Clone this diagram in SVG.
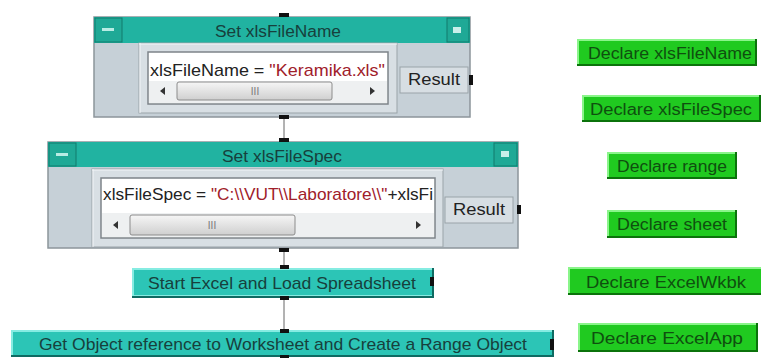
<svg xmlns="http://www.w3.org/2000/svg" width="761" height="358" viewBox="0 0 761 358">
<defs>
<linearGradient id="thumb" x1="0" y1="0" x2="0" y2="1">
<stop offset="0" stop-color="#f6f6f6"/><stop offset="1" stop-color="#cfcfcf"/>
</linearGradient>
<style>
text{font-family:"Liberation Sans",Arial,sans-serif;font-size:17px}
.title{fill:#17403c;text-anchor:middle;font-size:16px}
.body{fill:#c6d0d7;stroke:#8c959b;stroke-width:1.5}
.bar{fill:#21b3a1}
.tbtn{fill:#1fa996;stroke:#137a6d;stroke-width:1}
.panel{fill:#d8dfe4;stroke:#9aa3a9;stroke-width:1}
.field{fill:#ffffff;stroke:#7d8489;stroke-width:1.5}
.scroll{fill:#eef0f1}
.thumb{fill:url(#thumb);stroke:#8c8c8c;stroke-width:1}
.arrow{fill:#333}
.grip{fill:#777;text-anchor:middle;font-size:10px}
.res{fill:#d7dee3;stroke:#9aa3a9;stroke-width:1}
.code{fill:#222}
.str{fill:#a0202a}
.pin{fill:#111}
.tealbtn{fill:#2cc5b6}
.tealhi{fill:#86ece2}
.tealsh{fill:#0e6b62}
.tealtx{fill:#17403c;text-anchor:middle}
.grn{fill:#20ca20}
.grnhi{fill:#8af58a}
.grnsh{fill:#0b730b}
.grntx{fill:#0f4f0f;text-anchor:middle;font-size:16px}
.wire{stroke:#666;stroke-width:1;fill:none}
</style>
</defs>
<rect width="761" height="358" fill="#ffffff"/>

<g id="connectors">
<line class="wire" x1="284" y1="119" x2="284" y2="138"/>
<line class="wire" x1="284" y1="251" x2="284" y2="265"/>
<line class="wire" x1="284" y1="299" x2="284" y2="329"/>
</g>

<g id="setXlsFileName">
<rect class="body" x="94" y="17" width="376" height="100"/>
<rect class="bar" x="94" y="17" width="376" height="26"/>
<rect class="tbtn" x="95" y="18" width="27" height="24"/>
<rect x="102" y="28" width="12" height="3" fill="#b8ece4"/>
<rect class="tbtn" x="447" y="18" width="22" height="24"/>
<rect x="453" y="27" width="8" height="6" fill="#c8efea"/>
<text class="title" x="278" y="37" textLength="126" lengthAdjust="spacingAndGlyphs">Set xlsFileName</text>
<rect class="panel" x="139" y="43" width="258" height="70"/>
<line x1="139" y1="44" x2="397" y2="44" stroke="#f2f5f7"/>
<line x1="140" y1="43" x2="140" y2="113" stroke="#f2f5f7"/>
<rect class="field" x="148" y="52" width="240" height="52"/>
<rect class="scroll" x="149" y="81" width="238" height="22"/>
<path class="arrow" d="M160,91 L165,87 L165,95 Z"/>
<path class="arrow" d="M375,91 L370,87 L370,95 Z"/>
<rect class="thumb" x="177" y="82" width="155" height="18" rx="2"/>
<text class="grip" x="255" y="95">III</text>
<text class="code" x="150" y="76" textLength="235" lengthAdjust="spacingAndGlyphs">xlsFileName = <tspan class="str">"Keramika.xls"</tspan></text>
<rect class="res" x="400" y="67" width="68" height="26"/>
<text class="code" x="434" y="85" text-anchor="middle" textLength="52" lengthAdjust="spacingAndGlyphs">Result</text>
<rect class="pin" x="469" y="75" width="4" height="10"/>
<rect class="pin" x="279" y="13" width="10" height="4"/>
<rect class="pin" x="279" y="115" width="10" height="4"/>
</g>

<g id="setXlsFileSpec">
<rect class="body" x="48" y="142" width="470" height="106"/>
<rect class="bar" x="48" y="142" width="470" height="25"/>
<rect class="tbtn" x="49" y="143" width="27" height="23"/>
<rect x="56" y="153" width="12" height="3" fill="#b8ece4"/>
<rect class="tbtn" x="494" y="143" width="23" height="23"/>
<rect x="501" y="151" width="8" height="6" fill="#c8efea"/>
<text class="title" x="282" y="162" textLength="120" lengthAdjust="spacingAndGlyphs">Set xlsFileSpec</text>
<rect class="panel" x="92" y="169" width="351" height="78"/>
<line x1="92" y1="170" x2="443" y2="170" stroke="#f2f5f7"/>
<line x1="93" y1="169" x2="93" y2="247" stroke="#f2f5f7"/>
<rect class="field" x="101" y="178" width="334" height="60"/>
<rect class="scroll" x="102" y="213" width="332" height="24"/>
<path class="arrow" d="M113,225 L118,221 L118,229 Z"/>
<path class="arrow" d="M421,225 L416,221 L416,229 Z"/>
<rect class="thumb" x="130" y="215" width="165" height="20" rx="2"/>
<text class="grip" x="212" y="229">III</text>
<text class="code" x="103" y="200" textLength="330" lengthAdjust="spacingAndGlyphs">xlsFileSpec = <tspan class="str">"C:\\VUT\\Laboratore\\"</tspan>+xlsFi</text>
<rect class="res" x="445" y="197" width="68" height="26"/>
<text class="code" x="479" y="215" text-anchor="middle" textLength="52" lengthAdjust="spacingAndGlyphs">Result</text>
<rect class="pin" x="517" y="205" width="4" height="9"/>
<rect class="pin" x="279" y="138" width="10" height="4"/>
<rect class="pin" x="279" y="248" width="10" height="4"/>
</g>

<g id="startExcel">
<rect class="tealsh" x="132" y="268" width="302" height="30"/>
<rect class="tealhi" x="132" y="268" width="300" height="28"/>
<rect class="tealbtn" x="134" y="270" width="298" height="25"/>
<text class="tealtx" x="282" y="289" textLength="268" lengthAdjust="spacingAndGlyphs">Start Excel and Load Spreadsheet</text>
<rect class="pin" x="430" y="277" width="4" height="9"/>
<rect class="pin" x="280" y="265" width="9" height="4"/>
<rect class="pin" x="280" y="296" width="9" height="4"/>
</g>

<g id="getObject">
<rect class="tealsh" x="11" y="330" width="543" height="27"/>
<rect class="tealhi" x="11" y="330" width="541" height="25"/>
<rect class="tealbtn" x="13" y="332" width="539" height="23"/>
<text class="tealtx" x="283" y="350" textLength="488" lengthAdjust="spacingAndGlyphs">Get Object reference to Worksheet and Create a Range Object</text>
<rect class="pin" x="550" y="339" width="4" height="11"/>
<rect class="pin" x="280" y="329" width="9" height="4"/>
<rect class="pin" x="280" y="355" width="9" height="4"/>
</g>

<g id="declareXlsFileName">
<rect class="grnsh" x="577" y="39" width="180" height="27"/>
<rect class="grnhi" x="577" y="39" width="178" height="25"/>
<rect class="grn" x="579" y="41" width="176" height="23"/>
<text class="grntx" x="670" y="59" textLength="164" lengthAdjust="spacingAndGlyphs">Declare xlsFileName</text>
</g>
<g id="declareXlsFileSpec">
<rect class="grnsh" x="582" y="95" width="179" height="27"/>
<rect class="grnhi" x="582" y="95" width="177" height="25"/>
<rect class="grn" x="584" y="97" width="175" height="23"/>
<text class="grntx" x="671" y="115" textLength="162" lengthAdjust="spacingAndGlyphs">Declare xlsFileSpec</text>
</g>
<g id="declareRange">
<rect class="grnsh" x="607" y="152" width="130" height="27"/>
<rect class="grnhi" x="607" y="152" width="128" height="25"/>
<rect class="grn" x="609" y="154" width="126" height="23"/>
<text class="grntx" x="672" y="172" textLength="110" lengthAdjust="spacingAndGlyphs">Declare range</text>
</g>
<g id="declareSheet">
<rect class="grnsh" x="607" y="210" width="130" height="28"/>
<rect class="grnhi" x="607" y="210" width="128" height="26"/>
<rect class="grn" x="609" y="212" width="126" height="24"/>
<text class="grntx" x="672" y="230" textLength="110" lengthAdjust="spacingAndGlyphs">Declare sheet</text>
</g>
<g id="declareExcelWkbk">
<rect class="grnsh" x="568" y="267" width="193" height="28"/>
<rect class="grnhi" x="568" y="267" width="193" height="26"/>
<rect class="grn" x="570" y="269" width="191" height="24"/>
<text class="grntx" x="666" y="288" textLength="160" lengthAdjust="spacingAndGlyphs">Declare ExcelWkbk</text>
</g>
<g id="declareExcelApp">
<rect class="grnsh" x="578" y="323" width="180" height="29"/>
<rect class="grnhi" x="578" y="323" width="178" height="27"/>
<rect class="grn" x="580" y="325" width="176" height="25"/>
<text class="grntx" x="667" y="344" textLength="152" lengthAdjust="spacingAndGlyphs">Declare ExcelApp</text>
</g>
</svg>
